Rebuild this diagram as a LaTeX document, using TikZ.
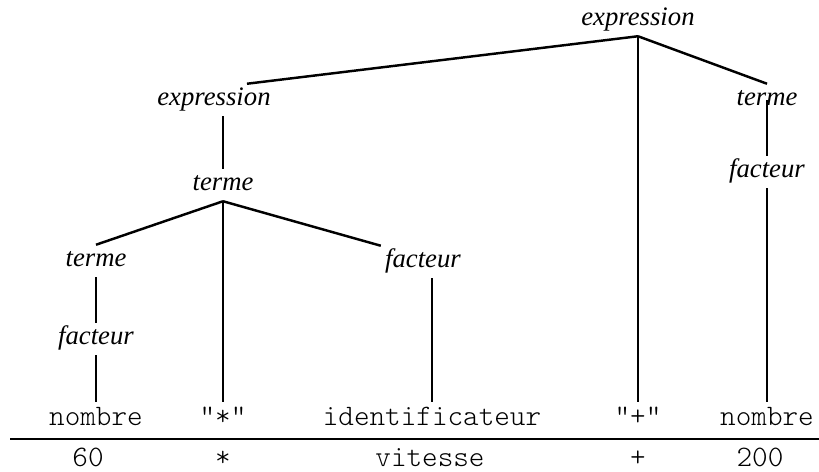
\documentclass[tikz,border=0pt]{standalone}
\usepackage{fontspec}
\setmainfont{Liberation Serif}
\setmonofont{lmmonolt10-regular}[Extension=.otf]

\begin{document}
\begin{tikzpicture}[x=0.02cm, y=-0.02cm, line width=1.4pt,
	nt/.style={font=\itshape\fontsize{15.2}{17}\selectfont, text height=10pt, text depth=3.5pt, inner sep=1.8pt},
	tok/.style={font=\ttfamily\fontsize{16.9}{19}\selectfont, text height=11pt, text depth=3pt, inner sep=1.2pt}]
	\useasboundingbox (0,0) rectangle (819,472);
	% non-terminal symbols
	\node[nt] (e0) at (638,20) {expression};
	\node[nt] (e1) at (214,100) {expression};
	\node[nt] (tR) at (767,100) {terme};
	\node[nt] (fR) at (767,172) {facteur};
	\node[nt] (t1) at (223,185) {terme};
	\node[nt] (tL) at (96,261) {terme};
	\node[nt] (fL) at (96,339) {facteur};
	\node[nt] (fM) at (423,262) {facteur};
	% terminal symbols
	\node[tok] (nL) at (96,418) {nombre};
	\node[tok] (star) at (223,418) {"*"};
	\node[tok] (id) at (432,418) {identificateur};
	\node[tok] (plus) at (638,418) {"+"};
	\node[tok] (nR) at (767,418) {nombre};
	% input tokens
	\node[tok] (v60) at (88,459) {60};
	\node[tok] (vstar) at (223,459) {*};
	\node[tok] (vit) at (430,459) {vitesse};
	\node[tok] (vplus) at (638,459) {+};
	\node[tok] (v200) at (760,459) {200};
	% separating rule
	\coordinate (ruleL) at (10,439);
	\coordinate (ruleR) at (819,439);
	\draw (ruleL) -- (ruleR);
	% edges of the tree
	\draw (e0.south) -- ([xshift=0.66cm]e1.north);
	\draw (e0.south) -- (plus.north);
	\draw (e0.south) -- (tR.north);
	\draw (tR.center) -- (fR) -- (nR.north);
	\draw (e1.south -| t1.north) -- (t1.north);
	\draw (t1.south) -- (tL.north);
	\draw (t1.south) -- (star.north);
	\draw (t1.south) -- (fM.north west);
	\draw (tL.south) -- (fL) -- (nL.north);
	\draw (fM.south -| id.north) -- (id.north);
\end{tikzpicture}
\end{document}
